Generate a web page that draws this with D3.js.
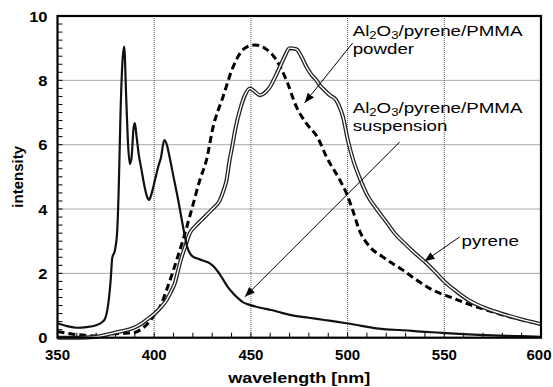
<!DOCTYPE html>
<html>
<head>
<meta charset="utf-8">
<script src="https://cdn.jsdelivr.net/npm/d3@7"></script>
<style>
  html, body { margin: 0; padding: 0; background: #fff; }
  svg { display: block; }
  text { font-family: "Liberation Sans", Arial, sans-serif; fill: #000; }
</style>
</head>
<body>
<svg id="chart" width="553" height="387"></svg>
<script>
// Emission spectra: wavelength [nm] vs. intensity
const suspensionWl = [350,355,360,365,370,373,374.5,376,377.5,378.3,379.7,380.8,381.6,382.6,383.6,384.5,385.5,386.5,387.4,388.3,389.3,390,390.8,392,393.5,395,396.5,397.3,398.5,400.4,402,403.5,405.2,406.5,408,410,412.4,414,415.9,417.2,418.4,420,422,425,428.8,431,433,435.5,438,440.5,443.3,446,449.4,455,460.6,466,472.7,480,488,494,499.4,507,514.9,520,527,538,549,560,575,590,600];
const suspensionI  = [0.45,0.36,0.31,0.33,0.39,0.48,0.58,0.95,1.8,2.48,2.72,3.25,4.5,7.0,8.6,9.05,7.5,6.0,5.4,5.6,6.5,6.67,6.3,5.7,5.2,4.7,4.35,4.28,4.45,4.9,5.3,5.6,6.14,6.0,5.6,5.0,4.28,3.75,3.14,2.8,2.63,2.52,2.47,2.4,2.31,2.2,2.05,1.82,1.58,1.4,1.23,1.1,1.02,0.93,0.86,0.77,0.68,0.62,0.55,0.5,0.45,0.37,0.29,0.26,0.24,0.19,0.15,0.11,0.07,0.05,0.03];

const pyreneWl = [350,360,370,377,383,389,393,396,400.4,403.5,406.4,408.8,410.7,412,413.3,416,418.4,421,424.5,429.6,434,436,437.4,439,440,442,444.3,447,449.4,452,454.6,457,459.9,462.5,465,467.5,470,473.5,476,478.7,481,483.9,485.6,488,490.8,494,496,497.6,500.1,503,506,510,515,520,525,530,535,540,546,550,556,563,570,578,590,600];
const pyreneI  = [0.0,0.0,0.03,0.12,0.2,0.3,0.42,0.55,0.76,0.95,1.17,1.45,1.7,2.0,2.32,2.83,3.25,3.45,3.66,3.97,4.28,4.6,4.9,5.52,5.83,6.5,7.07,7.55,7.75,7.65,7.54,7.6,7.8,8.1,8.42,8.75,9.0,8.97,8.75,8.42,8.2,8.0,7.85,7.7,7.54,7.39,7.15,6.87,6.15,5.5,5.0,4.45,4.0,3.6,3.2,2.9,2.62,2.36,2.0,1.75,1.45,1.15,0.95,0.78,0.57,0.42];

const powderWl = [350,358,365,372,378.8,385,389,393,396.8,400,403,407,411.6,414.9,419.3,423.6,427,430.5,435.6,440.8,446.8,452,457.2,463.2,468.4,473.5,478.7,484.7,489,496,499.4,502.6,506,511.4,518,528.6,535.5,544,552.7,561.3,571.7,583.7,600];
const powderI  = [0.19,0.11,0.07,0.05,0.12,0.14,0.15,0.25,0.45,0.7,0.96,1.58,2.41,3.04,3.97,4.9,5.52,6.56,7.49,8.42,9.0,9.1,9.0,8.63,8.0,7.18,6.66,6.2,5.63,4.9,4.49,3.97,3.35,2.83,2.52,2.1,1.8,1.48,1.27,1.07,0.86,0.65,0.42];

const xTicks = [350,400,450,500,550,600];
const yTicks = [0,2,4,6,8,10];

const svg = d3.select("#chart");
const x = d3.scaleLinear().domain([350, 600]).range([57.5, 541]);
const y = d3.scaleLinear().domain([0, 10]).range([337.7, 16]);

const zip = (a, b) => a.map((v, i) => [v, b[i]]);

// dotted grid
const grid = svg.append("g").attr("stroke", "#555").attr("stroke-width", 1).attr("stroke-dasharray", "1,1");
grid.selectAll("line.gx").data(xTicks.slice(1, -1)).join("line")
  .attr("x1", d => x(d)).attr("x2", d => x(d)).attr("y1", y(10)).attr("y2", y(0));
grid.selectAll("line.gy").data(yTicks.slice(1, -1)).join("line")
  .attr("x1", x(350)).attr("x2", x(600)).attr("y1", d => y(d)).attr("y2", d => y(d));

// minor ticks pointing inward
const minorX = d3.range(360, 600, 10);
svg.append("g").attr("stroke", "#000").attr("stroke-width", 1)
  .selectAll("line").data(minorX).join("line")
  .attr("x1", d => x(d)).attr("x2", d => x(d)).attr("y1", y(0)).attr("y2", y(0) - 5);
const minorY = d3.range(0.25, 10, 0.25);
svg.append("g").attr("stroke", "#000").attr("stroke-width", 1)
  .selectAll("line").data(minorY).join("line")
  .attr("x1", x(350)).attr("x2", x(350) + 5).attr("y1", d => y(d)).attr("y2", d => y(d));

// curves
const line = d3.line().x(d => x(d[0])).y(d => y(d[1])).curve(d3.curveMonotoneX);
const plot = svg.append("g");

plot.append("path").datum(zip(powderWl, powderI)).attr("d", line)
  .attr("fill", "none").attr("stroke", "#000").attr("stroke-width", 3)
  .attr("stroke-dasharray", "7,4");

plot.append("path").datum(zip(pyreneWl, pyreneI)).attr("d", line)
  .attr("fill", "none").attr("stroke", "#222").attr("stroke-width", 4);
plot.append("path").datum(zip(pyreneWl, pyreneI)).attr("d", line)
  .attr("fill", "none").attr("stroke", "#fff").attr("stroke-width", 1.4);

plot.append("path").datum(zip(suspensionWl, suspensionI)).attr("d", line)
  .attr("fill", "none").attr("stroke", "#111").attr("stroke-width", 2.2)
  .attr("stroke-linejoin", "round");

// frame
svg.append("rect").attr("x", x(350)).attr("y", y(10))
  .attr("width", x(600) - x(350)).attr("height", y(0) - y(10))
  .attr("fill", "none").attr("stroke", "#000").attr("stroke-width", 2.2);

// tick labels
svg.append("g").selectAll("text").data(xTicks).join("text")
  .attr("transform", d => `translate(${d === 600 ? x(d) - 2 : x(d)},${y(0) + 22})`)
  .attr("text-anchor", "middle").attr("font-weight", "bold").attr("font-size", 15)
  .text(d => d);
svg.append("g").selectAll("text").data(yTicks).join("text")
  .attr("transform", d => `translate(${x(350) - 10},${y(d) + 5.5}) scale(1.1,1)`)
  .attr("text-anchor", "end").attr("font-weight", "bold").attr("font-size", 15)
  .text(d => d);

// axis titles
svg.append("text")
  .attr("transform", `translate(${(x(350) + x(600)) / 2},${y(0) + 45.5}) scale(1.2,1)`)
  .attr("text-anchor", "middle").attr("font-weight", "bold").attr("font-size", 15)
  .text("wavelength [nm]");
svg.append("text")
  .attr("transform", `translate(23,${(y(0) + y(10)) / 2}) rotate(-90)`)
  .attr("text-anchor", "middle").attr("font-weight", "bold").attr("font-size", 15)
  .text("intensity");

// annotations: label anchor and arrow endpoints in data units
const notes = [
  { lines: ["formula", "powder"], at: [502.6, 9.37], from: [502.6, 9.16], to: [477.8, 7.3] },
  { lines: ["formula", "suspension"], at: [502.6, 6.98], from: [526.9, 6.08], to: [446.9, 1.27] },
  { lines: ["pyrene"], at: [558.9, 2.85], from: [557.9, 3.13], to: [539.8, 2.38] }
];

svg.append("defs").append("marker")
  .attr("id", "head").attr("viewBox", "0 0 10 8").attr("refX", 10).attr("refY", 4)
  .attr("markerWidth", 10).attr("markerHeight", 8).attr("markerUnits", "userSpaceOnUse")
  .attr("orient", "auto")
  .append("path").attr("d", "M0,0 L10,4 L0,8 Z").attr("fill", "#000");

notes.forEach(n => {
  svg.append("line")
    .attr("x1", x(n.from[0])).attr("y1", y(n.from[1]))
    .attr("x2", x(n.to[0])).attr("y2", y(n.to[1]))
    .attr("stroke", "#000").attr("stroke-width", 1).attr("marker-end", "url(#head)");
  n.lines.forEach((ln, i) => {
    const t = svg.append("text")
      .attr("transform", `translate(${x(n.at[0])},${y(n.at[1]) + i * 18}) scale(1.25,1)`)
      .attr("font-size", 15);
    if (ln === "formula") {
      t.append("tspan").text("Al");
      t.append("tspan").attr("font-size", 10.5).attr("dy", 3).text("2");
      t.append("tspan").attr("dy", -3).text("O");
      t.append("tspan").attr("font-size", 10.5).attr("dy", 3).text("3");
      t.append("tspan").attr("dy", -3).text("/pyrene/PMMA");
    } else {
      t.text(ln);
    }
  });
});
</script>
</body>
</html>
